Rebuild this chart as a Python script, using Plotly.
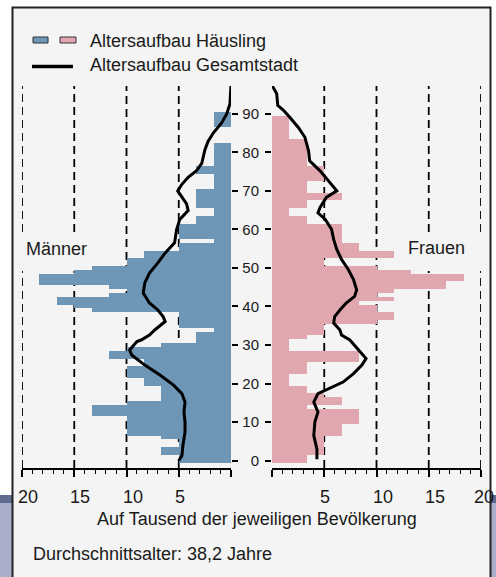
import plotly.graph_objects as go

# Population pyramid of the Häusling district (per thousand of the district population)
ages = list(range(0, 97))

# men, per mille, ages 0..96
men = [5.0, 5.0, 6.67, 6.67, 5.0, 5.0, 6.67, 10.0, 10.0, 10.0,
       10.0, 10.0, 13.33, 13.33, 13.33, 10.0, 6.67, 6.67, 6.67, 6.67,
       8.33, 8.33, 10.0, 10.0, 10.0, 8.33, 8.33, 11.67, 11.67, 10.0,
       6.67, 3.33, 3.33, 3.33, 1.67, 5.0, 5.0, 5.0, 5.0, 13.33,
       15.0, 16.67, 16.67, 11.67, 10.0, 11.67, 18.33, 18.33, 18.33, 15.0,
       13.33, 10.0, 10.0, 8.33, 8.33, 5.0, 5.0, 1.67, 5.0, 5.0,
       5.0, 5.0, 3.33, 3.33, 1.67, 1.67, 3.33, 3.33, 3.33, 3.33,
       3.33, 1.67, 1.67, 1.67, 1.67, 3.33, 3.33, 1.67, 1.67, 1.67,
       1.67, 1.67, 1.67, 0, 0, 0, 0, 1.67, 1.67, 1.67,
       1.67, 0, 0, 0, 0, 0, 0]

# women, per mille, ages 0..96
women = [3.33, 3.33, 5.0, 5.0, 5.0, 5.0, 5.0, 6.67, 6.67, 6.67,
         8.33, 8.33, 8.33, 8.33, 3.33, 6.67, 6.67, 5.0, 3.33, 3.33,
         1.67, 1.67, 1.67, 3.33, 3.33, 3.33, 8.33, 8.33, 8.33, 1.67,
         1.67, 1.67, 3.33, 5.0, 5.0, 5.0, 10.0, 11.67, 11.67, 10.0,
         10.0, 8.33, 11.67, 10.0, 11.67, 16.67, 16.67, 18.33, 18.33, 13.33,
         10.0, 5.0, 5.0, 11.67, 11.67, 8.33, 8.33, 6.67, 6.67, 6.67,
         6.67, 6.67, 3.33, 3.33, 1.67, 1.67, 3.33, 3.33, 6.67, 6.67,
         3.33, 3.33, 3.33, 5.0, 5.0, 5.0, 5.0, 3.33, 3.33, 3.33,
         3.33, 3.33, 3.33, 3.33, 1.67, 1.67, 1.67, 1.67, 1.67, 1.67,
         0, 0, 0, 0, 0, 0, 0]

# whole-city profile (per mille)
city_men_age = [0, 1.3, 4, 7.4, 10, 12.6, 15.2, 17.4, 19.6, 22.2, 24.8, 27.4, 28.7,
                30.9, 31.3, 32.6, 33.9, 36.1, 37.4, 39.1, 40.9, 43.5, 46.1, 48.7,
                51.3, 53.9, 56.5, 60, 62.6, 64.9, 66.6, 68.3, 70, 71.7, 73.5, 75.2,
                77.1, 80.6, 82.8, 85, 87.6, 90, 92.6, 95.2, 97.4]
city_men = [5.0, 4.7, 4.6, 4.4, 4.4, 4.5, 4.4, 4.7, 5.5, 6.8, 8.25, 9.5, 9.7,
            9.0, 8.6, 7.8, 7.3, 6.3, 6.5, 7.0, 7.8, 8.4, 8.25, 7.8,
            7.0, 6.3, 5.4, 5.2, 4.9, 4.1, 4.25, 4.7, 5.1, 4.7, 4.1, 3.3,
            2.8, 2.5, 2.2, 1.7, 0.9, 0.4, 0.1, 0.05, 0.0]

city_women_age = [0.4, 3, 6.5, 10, 12.6, 15.2, 17.4, 18.7, 20.4, 22.6, 24.8, 26.5,
                  30, 31.3, 32.6, 33.9, 35.7, 37.4, 39.1, 40.9, 42.6, 44.3, 47,
                  49.6, 52.2, 54.8, 57.4, 60, 62.6, 64.3, 65.7, 68.3, 70, 72.6,
                  75.2, 77.8, 80.4, 83.9, 86.5, 89.1, 90.9, 92.2, 95.2, 97.4]
city_women = [4.3, 4.3, 4.0, 4.1, 4.4, 4.0, 4.4, 5.5, 6.8, 7.8, 8.6, 9.0,
              7.9, 7.45, 6.65, 6.5, 5.9, 6.0, 6.5, 7.1, 7.9, 8.1, 7.8,
              7.3, 6.65, 6.2, 5.9, 5.7, 5.1, 4.4, 4.6, 5.2, 6.2, 5.4,
              4.6, 3.6, 3.5, 3.15, 2.5, 1.7, 1.1, 0.55, 0.45, 0.0]

scale_ticks = [5, 10, 15, 20]
age_ticks = list(range(0, 100, 10))

BLUE = "#6d96b7"
PINK = "#e0a7ae"
BG = "#f4f4f4"
INK = "#1a1a1a"
FONT = "Liberation Sans, Arial, sans-serif"

W, H = 496, 577
def px(x):
    return x / W
def py(y):
    return (H - y) / H

Y_RANGE = [-1.9, 97.2]

fig = go.Figure()
fig.add_trace(go.Bar(y=ages, x=men, orientation="h", width=1,
                     marker=dict(color=BLUE, line=dict(width=0)),
                     xaxis="x", yaxis="y", showlegend=False))
fig.add_trace(go.Scatter(y=city_men_age, x=city_men, mode="lines",
                         line=dict(color="black", width=3),
                         xaxis="x", yaxis="y", showlegend=False))
fig.add_trace(go.Bar(y=ages, x=women, orientation="h", width=1,
                     marker=dict(color=PINK, line=dict(width=0)),
                     xaxis="x2", yaxis="y2", showlegend=False))
fig.add_trace(go.Scatter(y=city_women_age, x=city_women, mode="lines",
                         line=dict(color="black", width=3),
                         xaxis="x2", yaxis="y2", showlegend=False))

xcommon = dict(showgrid=False, zeroline=False, showline=True, linecolor="black",
               linewidth=1.5, ticks="outside", ticklen=7, tickwidth=1.5,
               tickcolor="black", tickvals=[0] + scale_ticks, showticklabels=False,
               minor=dict(dtick=1, tick0=0, ticks="outside", ticklen=4,
                          tickwidth=1.2, tickcolor="black"))
ycommon = dict(range=Y_RANGE, showgrid=False, zeroline=False, showline=False,
               ticks="outside", ticklen=6, tickwidth=1.5, tickcolor="black",
               tickvals=age_ticks, domain=[py(468), py(86)])

shapes = []
# outer band below the panel and the panel itself
shapes.append(dict(type="rect", xref="paper", yref="paper", x0=0, x1=1,
                   y0=-0.05, y1=py(495), fillcolor="#a9afc8", line=dict(width=0),
                   layer="below"))
shapes.append(dict(type="rect", xref="paper", yref="paper", x0=0, x1=1,
                   y0=py(503), y1=py(495), fillcolor="#5f6b8f", line=dict(width=0),
                   layer="below"))
shapes.append(dict(type="rect", xref="paper", yref="paper", x0=px(12.5), x1=px(490.5),
                   y0=-0.05, y1=py(7.5), fillcolor=BG,
                   line=dict(color="#222222", width=2), layer="below"))

# dashed reference lines, interrupted behind the side labels
gap = (49.2, 59.3)
for xa in ("x", "x2"):
    for v in scale_ticks:
        segs = [(Y_RANGE[0], Y_RANGE[1])] if v < 15 else [(Y_RANGE[0], gap[0]), (gap[1], Y_RANGE[1])]
        for a, b in segs:
            shapes.append(dict(type="line", xref=xa, yref="y" if xa == "x" else "y2",
                               x0=v, x1=v, y0=a, y1=b, layer="below",
                               line=dict(color="black", width=1.8, dash="8px,5px")))

# legend swatches
shapes.append(dict(type="rect", xref="paper", yref="paper", x0=px(33), x1=px(48),
                   y0=py(43), y1=py(37), fillcolor=BLUE, line=dict(color="#333", width=1)))
shapes.append(dict(type="rect", xref="paper", yref="paper", x0=px(60), x1=px(76),
                   y0=py(43), y1=py(37), fillcolor=PINK, line=dict(color="#333", width=1)))
shapes.append(dict(type="line", xref="paper", yref="paper", x0=px(32), x1=px(73),
                   y0=py(66.5), y1=py(66.5), line=dict(color="black", width=3.5)))

ann = []
def text(x, y, s, anchor="left", size=18, xref="paper", xshift=0):
    ann.append(dict(x=x, y=y, xref=xref, yref="paper", text=s, showarrow=False,
                    xanchor=anchor, yanchor="middle", xshift=xshift,
                    font=dict(family=FONT, size=size, color=INK)))

text(px(88), py(41), "Altersaufbau Häusling")
text(px(88), py(65), "Altersaufbau Gesamtstadt")
text(px(24), py(249), "Männer")
text(px(467), py(248), "Frauen", anchor="right")
for v in scale_ticks:
    text(v, py(497), str(v), xref="x", xshift=-6)
    text(v, py(497), str(v), xref="x2", xshift=-6 if v < 20 else -9)
text(px(257), py(519), "Auf Tausend der jeweiligen Bevölkerung", anchor="center")
text(px(31), py(554), "Durchschnittsalter: 38,2 Jahre")

fig.update_layout(
    width=W, height=H, margin=dict(l=0, r=0, t=0, b=0),
    paper_bgcolor="white", plot_bgcolor="rgba(0,0,0,0)",
    bargap=0, showlegend=False,
    font=dict(family=FONT, color=INK),
    xaxis=dict(xcommon, domain=[px(22), px(231)], range=[20, 0], anchor="y"),
    xaxis2=dict(xcommon, domain=[px(272), px(481)], range=[0, 20], anchor="y2"),
    yaxis=dict(ycommon, anchor="x", side="right", showticklabels=False),
    yaxis2=dict(ycommon, anchor="x2", side="left", showticklabels=True,
                tickfont=dict(family=FONT, size=15, color=INK), ticklabelstandoff=3),
    shapes=shapes, annotations=ann,
)

fig.write_html("out.html")
